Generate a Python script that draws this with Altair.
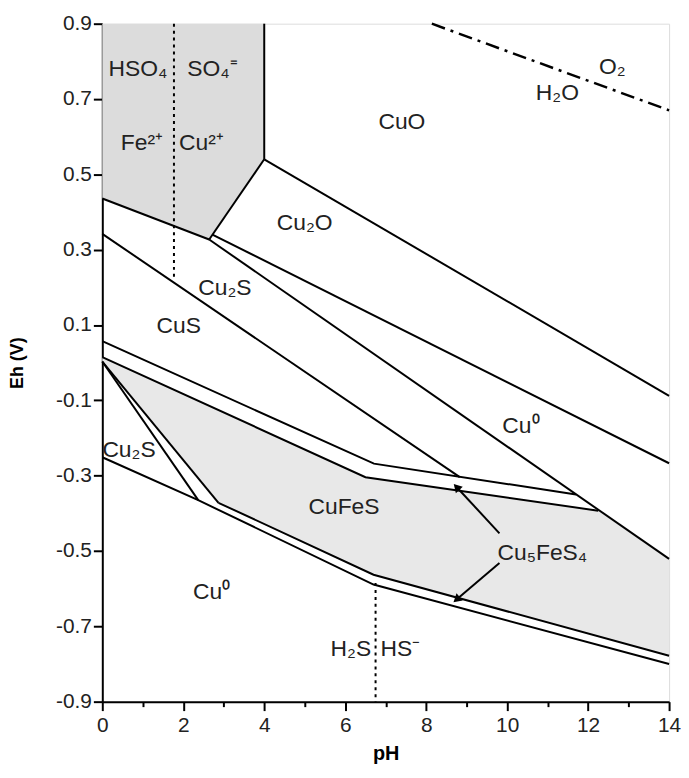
import altair as alt
import pandas as pd

# ---------------- data ----------------
# boundary polylines: (pH, Eh)
lines = {
    "gray_bottom": [(0, 0.436), (2.64, 0.327)],
    "gray_diag": [(2.64, 0.327), (4.0, 0.54)],
    "gray_vert": [(4.0, 0.54), (4.0, 0.9)],
    "CuO_Cu2O": [(4.0, 0.54), (14, -0.088)],
    "Cu2O_Cu0": [(2.72, 0.34), (14, -0.267)],
    "Cu2S_Cu0": [(2.64, 0.327), (14, -0.521)],
    "CuS_Cu2S": [(0, 0.342), (8.83, -0.304)],
    "lineA": [(0, 0.057), (6.71, -0.268), (11.7, -0.35)],
    "lineB": [(0, 0.015), (6.5, -0.304), (12.25, -0.393)],
    "fan1": [(0, 0.003), (2.37, -0.365)],
    "fan2": [(0, 0.003), (2.87, -0.372)],
    "lineC": [(2.87, -0.372), (6.7, -0.563), (14, -0.778)],
    "lineD": [(0, -0.251), (2.37, -0.365), (6.7, -0.589), (14, -0.80)],
}
dotted = {
    "HSO4_SO4": [(1.77, 0.9), (1.77, 0.22)],
    "H2S_HS": [(6.75, -0.585), (6.75, -0.9)],
}
water = [(8.14, 0.9), (14, 0.67)]

gray_poly = [(0, 0.9), (4.0, 0.9), (4.0, 0.54), (2.64, 0.327), (0, 0.436)]
stipple_poly = [(0, 0.015), (6.5, -0.304), (12.25, -0.393), (14, -0.521),
                (14, -0.778), (6.7, -0.563), (2.87, -0.372), (0, 0.003)]

label_text = ["HSO₄", "SO₄⁼", "Fe²⁺", "Cu²⁺", "CuO", "Cu₂O", "Cu₂S", "CuS",
              "Cu⁰", "Cu₂S", "CuFeS", "Cu₅FeS₄", "Cu⁰", "H₂S", "HS⁻", "O₂", "H₂O"]
label_ph = [0.88, 2.72, 0.98, 2.45, 7.4, 5.0, 3.03, 1.89,
            10.34, 0.66, 5.97, 10.87, 2.7, 6.14, 7.36, 12.6, 11.24]
label_eh = [0.78, 0.78, 0.584, 0.584, 0.64, 0.37, 0.197, 0.096,
            -0.167, -0.233, -0.383, -0.506, -0.61, -0.76, -0.76, 0.786, 0.715]

arrow_up = [(9.81, -0.453), (8.75, -0.33)]
arrow_down = [(9.81, -0.532), (8.75, -0.629)]

x_ticks = list(range(0, 15))
y_ticks = [round(-0.9 + 0.1 * i, 1) for i in range(19)]

# ---------------- build tables ----------------
def poly_df(pts, name):
    return pd.DataFrame({"x": [p[0] for p in pts], "y": [p[1] for p in pts],
                         "i": list(range(len(pts))), "g": name})

line_df = pd.concat([poly_df(v, k) for k, v in lines.items()], ignore_index=True)
dot_df = pd.concat([poly_df(v, k) for k, v in dotted.items()], ignore_index=True)
water_df = poly_df(water, "water")
gray_df = poly_df(gray_poly, "gray")
stip_df = poly_df(stipple_poly, "stipple")
lab_df = pd.DataFrame({"x": label_ph, "y": label_eh, "t": label_text})
aup_df = poly_df(arrow_up, "up")
adn_df = poly_df(arrow_down, "down")

FONT = "Liberation Sans"

xscale = alt.Scale(domain=[0, 14], nice=False, zero=False)
yscale = alt.Scale(domain=[-0.9, 0.9], nice=False, zero=False)

xaxis = alt.Axis(
    values=x_ticks, title="pH",
    labelExpr="datum.value % 2 == 0 ? datum.value : ''",
    tickSize={"condition": {"test": "datum.value % 2 == 0", "value": 9}, "value": 5},
    grid=False, domainColor="black", domainWidth=2, tickColor="black", tickWidth=2,
    labelFont=FONT, labelFontSize=21, labelColor="#222", labelPadding=4,
    labelFlush=False, labelOverlap=False,
    titleFont=FONT, titleFontSize=20, titleFontWeight="bold", titleColor="black",
    titlePadding=8,
)
yaxis = alt.Axis(
    values=y_ticks, title="Eh (V)",
    labelExpr="abs(round(datum.value*10)) % 2 == 1 ? (datum.value < 0 ? '-' : '') + format(abs(datum.value), '.1f') : ''",
    tickSize={"condition": {"test": "abs(round(datum.value*10)) % 2 == 1", "value": 9}, "value": 5},
    grid=False, domainColor="black", domainWidth=2, tickColor="black", tickWidth=2,
    labelFont=FONT, labelFontSize=21, labelColor="#222", labelPadding=2,
    labelFlush=False, labelOverlap=False,
    titleFont=FONT, titleFontSize=18, titleFontWeight="bold", titleColor="black",
    titlePadding=29,
)

X = alt.X("x:Q", scale=xscale, axis=xaxis)
Y = alt.Y("y:Q", scale=yscale, axis=yaxis)
Xn = alt.X("x:Q", scale=xscale)
Yn = alt.Y("y:Q", scale=yscale)

gray = alt.Chart(gray_df).mark_line(
    fill="#dcdcdc", stroke="#dcdcdc", strokeWidth=0, interpolate="linear-closed"
).encode(x=X, y=Y, order="i:Q")

stip = alt.Chart(stip_df).mark_line(
    fill="#e8e8e8", stroke="#e8e8e8", strokeWidth=0, interpolate="linear-closed"
).encode(x=Xn, y=Yn, order="i:Q")

bounds = alt.Chart(line_df).mark_line(color="black", strokeWidth=2).encode(
    x=Xn, y=Yn, detail="g:N", order="i:Q")

dots = alt.Chart(dot_df).mark_line(color="black", strokeWidth=2, strokeDash=[3, 4]).encode(
    x=Xn, y=Yn, detail="g:N", order="i:Q")

wat = alt.Chart(water_df).mark_line(color="black", strokeWidth=2.5,
                                    strokeDash=[14, 6, 3, 6]).encode(
    x=Xn, y=Yn, order="i:Q")

labels = alt.Chart(lab_df).mark_text(font=FONT, fontSize=23, color="#222").encode(
    x=Xn, y=Yn, text="t:N")

arr1 = alt.Chart(aup_df).mark_line(color="black", strokeWidth=2).encode(x=Xn, y=Yn, order="i:Q")
arr2 = alt.Chart(adn_df).mark_line(color="black", strokeWidth=2).encode(x=Xn, y=Yn, order="i:Q")
head1 = alt.Chart(aup_df[aup_df.i == 1]).mark_point(
    shape="triangle-up", filled=True, color="black", size=90, angle=317, opacity=1
).encode(x=Xn, y=Yn)
head2 = alt.Chart(adn_df[adn_df.i == 1]).mark_point(
    shape="triangle-up", filled=True, color="black", size=90, angle=229, opacity=1
).encode(x=Xn, y=Yn)

chart = alt.layer(gray, stip, bounds, dots, wat, arr1, arr2, head1, head2, labels).properties(
    width=571, height=683,
    padding={"left": 0, "top": 2, "right": 0, "bottom": 0},
).configure_view(stroke="black", strokeWidth=2).configure(background="white")

chart.save("out.html", embed_options={"renderer": "svg", "actions": False})
